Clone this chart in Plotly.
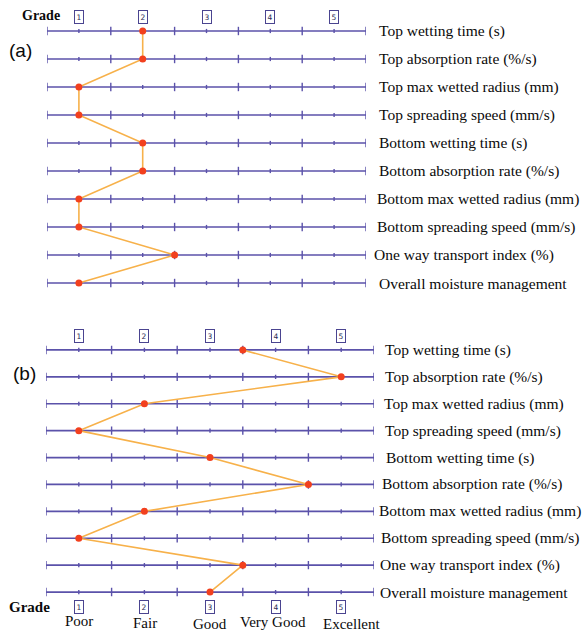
import plotly.graph_objects as go

properties_a = ["Top wetting time (s)", "Top absorption rate (%/s)", "Top max wetted radius (mm)",
                "Top spreading speed (mm/s)", "Bottom wetting time (s)", "Bottom absorption rate (%/s)",
                "Bottom max wetted radius (mm)", "Bottom spreading speed (mm/s)",
                "One way transport index (%)", "Overall moisture management"]
properties_b = properties_a
grades_a = [2, 2, 1, 1, 2, 2, 1, 1, 2.5, 1]
grades_b = [3.5, 5, 2, 1, 3, 4.5, 2, 1, 3.5, 3]
grade_numbers = [1, 2, 3, 4, 5]
grade_names = ["Poor", "Fair", "Good", "Very Good", "Excellent"]
tick_values = [0.5, 1, 1.5, 2, 2.5, 3, 3.5, 4, 4.5, 5, 5.5]

W, H = 585, 633
LINE_C = "#5b52aa"
DOT_C = "#f2401e"
PATH_C = "#f7b14a"
SERIF = "Liberation Serif"
TEXT_C = "#0a0a0a"

fig = go.Figure()

def px_x(p):
    return p / W

def px_y(p):
    return 1 - p / H

panels = [
    dict(props=properties_a, grades=grades_a, xa="x", ya="y",
         lab_x=[377, 377, 377, 377, 377, 377, 375, 375, 372, 377]),
    dict(props=properties_b, grades=grades_b, xa="x2", ya="y2",
         lab_x=[383, 383, 382, 383, 384, 380, 377, 379, 378, 378]),
]

for p in panels:
    n = len(p["props"])
    rows = list(range(n))
    for r in rows:
        fig.add_trace(go.Scatter(x=[tick_values[0], tick_values[-1]], y=[r, r], mode="lines",
                                 line=dict(color=LINE_C, width=1.7), xaxis=p["xa"], yaxis=p["ya"],
                                 hoverinfo="skip", showlegend=False))
        major = tick_values[0::2]
        minor = tick_values[1::2]
        fig.add_trace(go.Scatter(x=major, y=[r] * len(major), mode="markers",
                                 marker=dict(symbol="line-ns", size=6, line=dict(color=LINE_C, width=1.4)),
                                 xaxis=p["xa"], yaxis=p["ya"], hoverinfo="skip", showlegend=False))
        fig.add_trace(go.Scatter(x=minor, y=[r] * len(minor), mode="markers",
                                 marker=dict(symbol="line-ns", size=3, line=dict(color=LINE_C, width=1.4)),
                                 xaxis=p["xa"], yaxis=p["ya"], hoverinfo="skip", showlegend=False))
    fig.add_trace(go.Scatter(x=p["grades"], y=rows, mode="lines",
                             line=dict(color=PATH_C, width=1.6), xaxis=p["xa"], yaxis=p["ya"],
                             showlegend=False))
    fig.add_trace(go.Scatter(x=p["grades"], y=rows, mode="markers",
                             marker=dict(color=DOT_C, size=7), xaxis=p["xa"], yaxis=p["ya"],
                             showlegend=False))
    for r, (txt, lx) in enumerate(zip(p["props"], p["lab_x"])):
        fig.add_annotation(x=px_x(lx), xref="paper", y=r, yref=p["ya"], text=txt, showarrow=False,
                           xanchor="left", yanchor="middle",
                           font=dict(family=SERIF, size=15.5, color=TEXT_C))

fig.update_layout(
    xaxis=dict(domain=[px_x(47), px_x(366)], range=[0.5, 5.5], visible=False, anchor="y"),
    yaxis=dict(domain=[px_y(297), px_y(17)], range=[9.5, -0.5], visible=False, anchor="x"),
    xaxis2=dict(domain=[px_x(46), px_x(374)], range=[0.5, 5.5], visible=False, anchor="y2"),
    yaxis2=dict(domain=[px_y(605.5), px_y(336.5)], range=[9.5, -0.5], visible=False, anchor="x2"),
)

def grade_box(g, xref, ypx):
    fig.add_annotation(x=g, xref=xref, y=px_y(ypx), yref="paper", text=str(g), showarrow=False,
                       xanchor="center", yanchor="middle",
                       font=dict(family="DejaVu Sans", size=7.5, color="#2a2a55"),
                       bordercolor="#4a4490", borderwidth=1, borderpad=1.5, bgcolor="white")

for g in grade_numbers:
    grade_box(g, "x", 17)
    grade_box(g, "x2", 336)
    grade_box(g, "x2", 607)

name_x = [79, 145, 210, 273, 351]
name_y = [621, 623, 624, 622, 624]
for name, nx, ny in zip(grade_names, name_x, name_y):
    fig.add_annotation(x=px_x(nx), xref="paper", y=px_y(ny), yref="paper", text=name, showarrow=False,
                       xanchor="center", yanchor="middle",
                       font=dict(family=SERIF, size=15, color=TEXT_C))

fig.add_annotation(x=px_x(20), xref="paper", y=px_y(15), yref="paper", text="<b>Grade</b>",
                   showarrow=False, xanchor="left", yanchor="middle",
                   font=dict(family=SERIF, size=14, color=TEXT_C))
fig.add_annotation(x=px_x(7), xref="paper", y=px_y(607), yref="paper", text="<b>Grade</b>",
                   showarrow=False, xanchor="left", yanchor="middle",
                   font=dict(family=SERIF, size=15, color=TEXT_C))
fig.add_annotation(x=px_x(7), xref="paper", y=px_y(50), yref="paper", text="(a)",
                   showarrow=False, xanchor="left", yanchor="middle",
                   font=dict(family="Liberation Sans", size=19, color=TEXT_C))
fig.add_annotation(x=px_x(11), xref="paper", y=px_y(373), yref="paper", text="(b)",
                   showarrow=False, xanchor="left", yanchor="middle",
                   font=dict(family="Liberation Sans", size=19, color=TEXT_C))

fig.update_layout(width=W, height=H, margin=dict(l=0, r=0, t=0, b=0),
                  paper_bgcolor="white", plot_bgcolor="white", showlegend=False)

fig.write_html("out.html", config={"displayModeBar": False},
               post_script="document.body.style.margin='0';"
                           "document.documentElement.style.overflow='hidden';"
                           "document.body.style.overflow='hidden';")
